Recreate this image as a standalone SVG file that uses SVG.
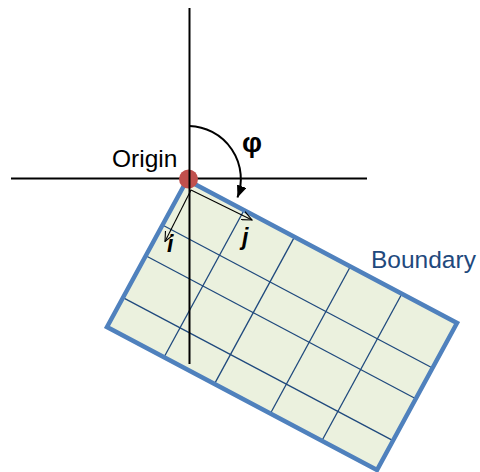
<svg xmlns="http://www.w3.org/2000/svg" width="480" height="472" viewBox="0 0 480 472">
  <defs>
    <style>
      .axis { stroke: #000; stroke-width: 2; fill: none; }
      .grid { stroke: #1f497d; stroke-width: 1.3; fill: none; }
      .vec { stroke: #000; stroke-width: 1.1; fill: none; }
      .lbl { font-family: "Liberation Sans", Arial, sans-serif; font-size: 24.5px; }
      .ij { font-family: "Liberation Sans", Arial, sans-serif; font-size: 23px; font-weight: bold; font-style: italic; fill: #000; }
    </style>
    <marker id="solidHead" markerUnits="userSpaceOnUse" markerWidth="12" markerHeight="10" refX="12" refY="5" orient="auto">
      <path d="M0,0 L12,5 L0,10 z" fill="#000"/>
    </marker>
    <marker id="openHead" markerUnits="userSpaceOnUse" markerWidth="11" markerHeight="10" refX="10" refY="5" orient="auto">
      <path d="M0,0.5 L10,5 L0,9.5" fill="none" stroke="#000" stroke-width="1.1"/>
    </marker>
  </defs>

  <g id="boundary">
    <polygon points="187,180 457,323 377,470 107,327" fill="#ebf1de"/>
    <g class="grid">
      <line x1="162.5" y1="225" x2="432.5" y2="368"/>
      <line x1="145.8" y1="255.7" x2="415.8" y2="398.7"/>
      <line x1="123" y1="297.6" x2="393" y2="440.6"/>
      <line x1="244" y1="210.2" x2="164" y2="357.2"/>
      <line x1="294.5" y1="236.9" x2="214.5" y2="383.9"/>
      <line x1="350.4" y1="266.5" x2="270.4" y2="413.5"/>
      <line x1="401.9" y1="293.8" x2="321.9" y2="440.8"/>
    </g>
    <polygon points="187,180 457,323 377,470 107,327" fill="none" stroke="#4f81bd" stroke-width="4.5" stroke-linejoin="miter"/>
    <text class="lbl" x="371" y="268" fill="#1f497d">Boundary</text>
  </g>

  <g id="axes">
    <line class="axis" x1="11" y1="178.5" x2="367" y2="178.5"/>
  </g>

  <g id="origin">
    <circle cx="188.5" cy="179" r="9.5" fill="#c0504d"/>
    <text class="lbl" x="112" y="167" fill="#000">Origin</text>
  </g>

  <g id="connectors">
    <line class="axis" x1="189.5" y1="8" x2="189.5" y2="364"/>
    <path d="M189.5,126 A53,53 0 0 1 237.5,197.5" fill="none" stroke="#000" stroke-width="2" marker-end="url(#solidHead)"/>
    <line class="vec" x1="191" y1="190" x2="252" y2="220" marker-end="url(#openHead)"/>
    <line class="vec" x1="191" y1="190" x2="165" y2="241.5" marker-end="url(#openHead)"/>
  </g>

  <g id="labels">
    <text x="252" y="152" font-family="'Liberation Sans', Arial, sans-serif" font-size="28" font-weight="bold" text-anchor="middle" fill="#000">φ</text>
    <text class="ij" x="167" y="252">i</text>
    <text class="ij" x="242" y="245">j</text>
  </g>
</svg>
